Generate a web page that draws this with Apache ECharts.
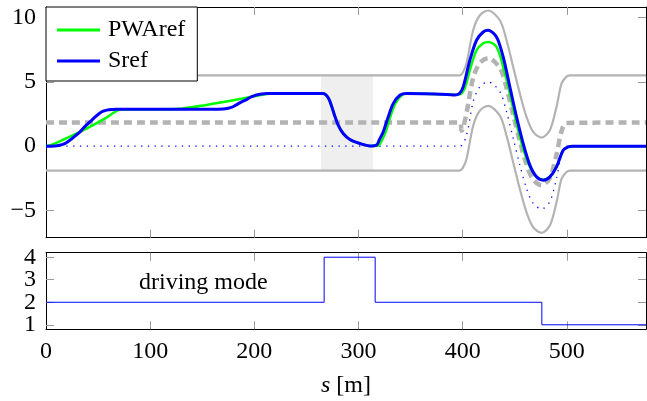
<!DOCTYPE html>
<html>
<head>
<meta charset="utf-8">
<script src="https://cdn.jsdelivr.net/npm/echarts@6/dist/echarts.min.js"></script>
<style>
  html, body { margin: 0; padding: 0; background: #fff; }
  #chart { width: 647px; height: 401px; }
</style>
</head>
<body>
<div id="chart"></div>
<script>
// values, as [s, y] pairs
const pwaRef = [
  [0, 0], [5, 0.1], [15, 0.45], [26, 0.85], [42, 1.5], [58, 2.22], [66, 2.65], [71, 2.85], [76, 2.87],
  [120, 2.87], [128, 2.9], [135, 2.98], [154, 3.2], [186, 3.66], [205, 3.96], [212, 4.05], [218, 4.08],
  [266, 4.08], [271, 3.75], [274.2, 3.1], [277.4, 2.3], [280.5, 1.63], [285.3, 0.98], [291.7, 0.52],
  [301.3, 0.21], [310.9, 0.02], [319, 0.05], [322, 0.4], [326, 1.1], [330.5, 2.27], [335.3, 3.3],
  [341.5, 3.95], [348, 4.08], [392.5, 4.0], [397, 4.02], [402, 4.5], [406.9, 5.9], [413.3, 7.44],
  [419.7, 7.99], [424.5, 8.09], [432.5, 7.7], [438.9, 6.15], [445.3, 4.08], [451.7, 1.76],
  [458.1, -0.18], [464.5, -1.6], [470.9, -2.38], [477.3, -2.6], [483.7, -2.38], [490.1, -1.6],
  [496.5, -0.31], [501.3, -0.05], [505, 0], [576, 0]
];
const sRef = [
  [0, 0], [8, 0.02], [12, 0.05], [18, 0.2], [23, 0.47], [28, 0.8], [32.6, 1.11], [37, 1.5], [42.2, 1.88],
  [47, 2.25], [51.8, 2.58], [55, 2.72], [58.3, 2.8], [63, 2.85], [68, 2.87], [165, 2.87], [170, 2.88],
  [175, 2.95], [180, 3.08], [186, 3.36], [192, 3.6], [197, 3.82], [202, 3.97], [207, 4.05], [212, 4.08],
  [266, 4.08], [271, 3.75], [274.2, 3.1], [277.4, 2.3], [280.5, 1.63], [285.3, 0.98], [291.7, 0.52],
  [301.3, 0.21], [310.9, 0.02], [317.4, 0.1], [320, 0.5], [323.7, 1.1], [328.5, 2.27], [333.3, 3.3],
  [339.7, 3.95], [346, 4.08], [385, 4.02], [392.5, 3.97], [397, 4.1], [400.5, 4.6], [406.9, 6.67],
  [413.3, 8.22], [419.7, 8.86], [424.5, 8.99], [432.5, 8.47], [438.9, 6.92], [445.3, 4.6],
  [451.7, 2.27], [458.1, 0.2], [464.5, -1.47], [470.9, -2.38], [477.3, -2.64], [483.7, -2.38],
  [490.1, -1.6], [496.5, -0.31], [501.3, -0.05], [505, 0], [576, 0]
];
const laneUpper = [
  [0, 5.5], [397, 5.5], [400, 5.7], [403.7, 6.41], [410.1, 8.99], [416.5, 10.16], [424.5, 10.53],
  [435.7, 9.77], [442.1, 8.22], [448.5, 6.15], [454.9, 4.08], [461.3, 2.27], [467.7, 1.11],
  [475.7, 0.67], [483.7, 1.24], [490.1, 3.05], [494.9, 4.86], [499.7, 5.4], [503, 5.5], [576, 5.5]
];
const laneLower = [
  [0, -1.9], [397, -1.9], [400, -1.7], [403.7, -0.99], [410.1, 1.59], [416.5, 2.76], [424.5, 3.13],
  [435.7, 2.37], [442.1, 0.82], [448.5, -1.25], [454.9, -3.32], [461.3, -5.13], [467.7, -6.29],
  [475.7, -6.73], [483.7, -6.16], [490.1, -4.35], [494.9, -2.54], [499.7, -2.0], [503, -1.9], [576, -1.9]
];
const laneCenter = [
  [0, 1.84], [397, 1.84], [399, 1.2], [401, 1.6], [404, 2.7], [410.1, 5.29], [416.5, 6.46],
  [424.5, 6.83], [435.7, 6.07], [442.1, 4.52], [448.5, 2.45], [454.9, 0.38], [461.3, -1.43],
  [467.7, -2.59], [475.7, -3.03], [483.7, -2.46], [490.1, -0.65], [494.9, 1.16], [499.7, 1.8], [576, 1.84]
];
const avoidPath = [
  [0, 0], [397, 0], [403.7, 0.87], [410.1, 3.45], [416.5, 4.62], [424.5, 4.99], [435.7, 4.23],
  [442.1, 2.68], [448.5, 0.61], [454.9, -1.46], [461.3, -3.27], [467.7, -4.43], [475.7, -4.87],
  [483.7, -4.3], [490.1, -2.49], [494.9, -0.68], [499.7, 0], [576, 0]
];
const drivingMode = [[0, 2], [267, 4], [316, 2], [476, 1], [576, 1]];
const shadeS = [264, 314];
const shadeY = [-1.9, 5.5];

const sLabels = [0, 100, 200, 300, 400, 500];
const sTicks = [100, 200, 300, 400, 500];
const yTicks = [-5, 0, 5, 10];
const modeTicks = [1, 2, 3, 4];
// labels are packed tighter than their glyph height, so they go on two stacked axes
const modeLabelsOdd = [1, 3];
const modeLabelsEven = [2, 4];

const FONT = 'Liberation Serif';
const GRAY = '#b3b3b3';

const chart = echarts.init(document.getElementById('chart'));

function axis(gridIndex, position, min, max, ticks, labels, extra) {
  return Object.assign({
    type: 'value',
    gridIndex,
    position,
    min,
    max,
    axisLine: { onZero: false, lineStyle: { color: '#000', width: 1 } },
    axisTick: { inside: true, length: 8, customValues: ticks, lineStyle: { color: '#999', width: 1 } },
    axisLabel: labels
      ? {
          customValues: labels,
          showMinLabel: true,
          showMaxLabel: true,
          margin: 10,
          color: '#000',
          fontFamily: FONT,
          fontSize: 24,
          formatter: v => (v < 0 ? '\u2212' + Math.abs(v) : String(v))
        }
      : { show: false },
    splitLine: { show: false }
  }, extra || {});
}

chart.setOption({
  animation: false,
  grid: [
    { left: 46, top: 7, width: 600, height: 230.7 },
    { left: 46, top: 252.7, width: 600, height: 76.6 }
  ],
  xAxis: [
    axis(0, 'bottom', 0, 576, sTicks, null),
    axis(0, 'top', 0, 576, sTicks, null),
    axis(1, 'bottom', 0, 576, sTicks, sLabels, {
      name: '{i|s} [m]',
      nameLocation: 'middle',
      nameGap: 44,
      nameTextStyle: {
        fontFamily: FONT, fontSize: 24, color: '#000',
        rich: { i: { fontFamily: FONT, fontSize: 24, fontStyle: 'italic', color: '#000' } }
      }
    }),
    axis(1, 'top', 0, 576, sTicks, null)
  ],
  yAxis: [
    axis(0, 'left', -7.1, 10.8, yTicks, yTicks),
    axis(0, 'right', -7.1, 10.8, yTicks, null),
    axis(1, 'left', 0.8, 4.2, modeTicks, modeLabelsOdd),
    axis(1, 'right', 0.8, 4.2, modeTicks, null),
    axis(1, 'left', 0.8, 4.2, modeTicks, modeLabelsEven, {
      offset: 0, axisLine: { show: false }, axisTick: { show: false }
    })
  ],
  legend: {
    data: [
      { name: 'PWAref', icon: 'rect', itemStyle: { color: '#00ff00' } },
      { name: 'Sref', icon: 'rect', itemStyle: { color: '#0000ff' } }
    ],
    orient: 'vertical',
    left: 46,
    top: 7,
    backgroundColor: '#fff',
    borderColor: '#000',
    borderWidth: 1,
    borderRadius: 0,
    padding: [11, 12, 8, 11],
    itemGap: 7,
    itemWidth: 43,
    itemHeight: 3,
    textStyle: { fontFamily: FONT, fontSize: 24, color: '#000', padding: [0, 0, 0, 3] }
  },
  graphic: [{
    type: 'text',
    left: 139,
    top: 271,
    style: { text: 'driving mode', font: '24px "Liberation Serif"', fill: '#000' }
  }],
  series: [
    {
      type: 'line', xAxisIndex: 0, yAxisIndex: 0, data: [], silent: true,
      markArea: {
        silent: true,
        itemStyle: { color: '#efefef' },
        data: [[{ xAxis: shadeS[0], yAxis: shadeY[0] }, { xAxis: shadeS[1], yAxis: shadeY[1] }]]
      }
    },
    {
      name: 'upper', type: 'line', xAxisIndex: 0, yAxisIndex: 0, data: laneUpper,
      symbol: 'none', smooth: 0.3, lineStyle: { color: GRAY, width: 2.2 }
    },
    {
      name: 'lower', type: 'line', xAxisIndex: 0, yAxisIndex: 0, data: laneLower,
      symbol: 'none', smooth: 0.3, lineStyle: { color: GRAY, width: 2.2 }
    },
    {
      name: 'center', type: 'line', xAxisIndex: 0, yAxisIndex: 0, data: laneCenter,
      symbol: 'none', smooth: 0.3, lineStyle: { color: GRAY, width: 4.5, type: [8, 5] }
    },
    {
      name: 'avoid', type: 'line', xAxisIndex: 0, yAxisIndex: 0, data: avoidPath,
      symbol: 'none', smooth: 0.3, lineStyle: { color: '#0000ff', width: 1.3, type: [1.3, 5.5] }
    },
    {
      name: 'PWAref', type: 'line', xAxisIndex: 0, yAxisIndex: 0, data: pwaRef,
      symbol: 'none', smooth: 0.3, color: '#00ff00', lineStyle: { color: '#00ff00', width: 2.5 }
    },
    {
      name: 'Sref', type: 'line', xAxisIndex: 0, yAxisIndex: 0, data: sRef,
      symbol: 'none', smooth: 0.3, color: '#0000ff', lineStyle: { color: '#0000ff', width: 3 }
    },
    {
      name: 'mode', type: 'line', xAxisIndex: 2, yAxisIndex: 2, data: drivingMode,
      symbol: 'none', step: 'end', lineStyle: { color: '#0000ff', width: 1 }
    }
  ]
});
</script>
</body>
</html>
